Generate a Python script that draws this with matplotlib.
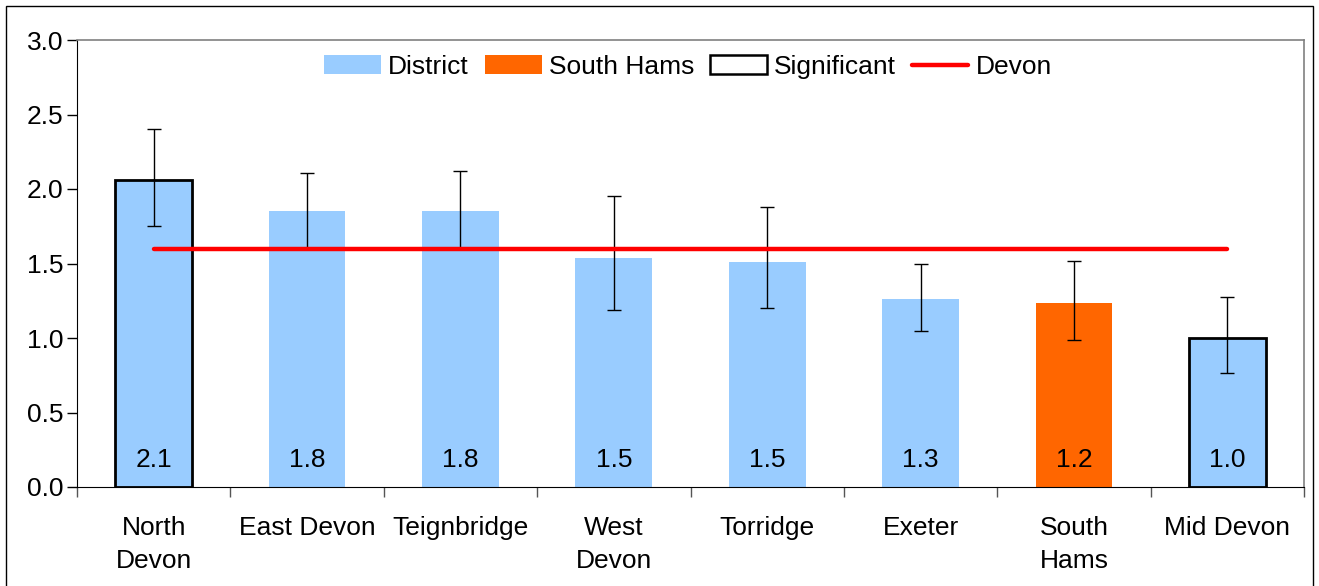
import matplotlib.pyplot as plt
from matplotlib.patches import Patch, Rectangle
from matplotlib.lines import Line2D
import numpy as np

plt.rcParams['font.family'] = ['Liberation Sans', 'DejaVu Sans']

# data
districts = ['North\nDevon', 'East Devon', 'Teignbridge', 'West\nDevon',
             'Torridge', 'Exeter', 'South\nHams', 'Mid Devon']
rates = [2.06, 1.85, 1.85, 1.54, 1.51, 1.26, 1.235, 1.0]
ci_low = [1.75, 1.60, 1.60, 1.19, 1.20, 1.05, 0.985, 0.765]
ci_high = [2.40, 2.11, 2.12, 1.95, 1.88, 1.50, 1.52, 1.275]
value_labels = ['2.1', '1.8', '1.8', '1.5', '1.5', '1.3', '1.2', '1.0']
significant = [True, False, False, False, False, False, False, True]
devon_rate = 1.6

BLUE = '#99CCFF'
ORANGE = '#FF6600'
FS = 19

fig = plt.figure(figsize=(13.19, 5.86), dpi=100)
ax = fig.add_axes([77 / 1319, 1 - 487 / 586, (1304 - 77) / 1319, (487 - 40) / 586])

# outer chart frame
fig.patches.append(Rectangle((6 / 1319, -0.01), (1313 - 6) / 1319, 1 - 6 / 586 + 0.01,
                             transform=fig.transFigure, fill=False,
                             edgecolor='black', linewidth=1.0, zorder=0))

x = np.arange(len(districts))
colors = [ORANGE if 'Hams' in d else BLUE for d in districts]
edges = ['black' if s else 'none' for s in significant]
lws = [2.0 if s else 0 for s in significant]
ax.bar(x, rates, width=0.5, color=colors, edgecolor=edges, linewidth=lws, zorder=2)

yerr = [np.array(rates) - np.array(ci_low), np.array(ci_high) - np.array(rates)]
ax.errorbar(x, rates, yerr=yerr, fmt='none', ecolor='black', elinewidth=1.0,
            capsize=5, capthick=1.0, zorder=3)

ax.plot([x[0], x[-1]], [devon_rate, devon_rate], color='#FF0000', linewidth=3.2,
        solid_capstyle='round', zorder=4)

for xi, lab in zip(x, value_labels):
    ax.text(xi, 0.18, lab, ha='center', va='center', fontsize=FS, zorder=5)

ax.set_xlim(-0.5, len(districts) - 0.5)
ax.set_ylim(0, 3.0)
ax.set_yticks(np.arange(0, 3.01, 0.5))
ax.set_yticklabels([f'{v:.1f}' for v in np.arange(0, 3.01, 0.5)], fontsize=FS)
ax.tick_params(axis='y', length=7, width=1, pad=3)

ax.set_xticks(np.arange(len(districts) + 1) - 0.5)
ax.set_xticklabels([])
ax.tick_params(axis='x', length=7, width=1, color='#555555')
ax.set_xticks(x, minor=True)
ax.set_xticklabels(districts, minor=True, fontsize=FS, linespacing=1.45)
ax.tick_params(axis='x', which='minor', length=0, pad=21)

for s in ['top', 'right']:
    ax.spines[s].set_color('#808080')
    ax.spines[s].set_linewidth(1.2)
ax.spines['left'].set_color('black')
ax.spines['bottom'].set_color('black')

handles = [Patch(facecolor=BLUE, edgecolor='none', label='District'),
           Patch(facecolor=ORANGE, edgecolor='none', label='South Hams'),
           Patch(facecolor='white', edgecolor='black', linewidth=1.8, label='Significant'),
           Line2D([0], [0], color='#FF0000', linewidth=3.2, solid_capstyle='round',
                  label='Devon')]
ax.legend(handles=handles, loc='upper center', bbox_to_anchor=(0.498, 1.02), ncol=4,
          frameon=False, fontsize=FS, handlelength=2.15, handleheight=0.7,
          handletextpad=0.27, columnspacing=0.6)

fig.savefig('out.png', dpi=100)
